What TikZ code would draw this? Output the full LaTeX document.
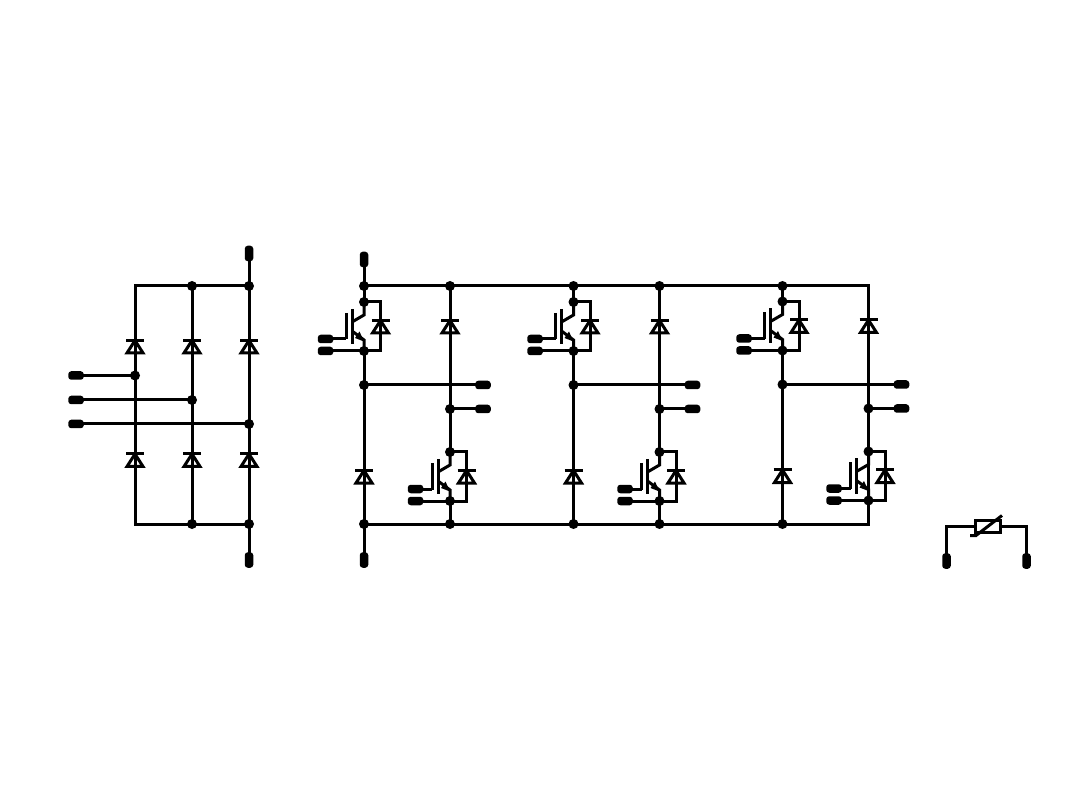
\documentclass[tikz,border=0pt]{standalone}
\tikzset{
    wire/.style={line width=3pt,line join=miter},
    dot/.style={circle,fill=black,inner sep=0pt,outer sep=0pt,minimum size=10pt},
    railcorner/.style={inner sep=0pt,outer sep=0pt,minimum size=0pt},
    hpad/.style={rectangle,fill=black,rounded corners=3pt,inner sep=0pt,outer sep=0pt,minimum width=15.5pt,minimum height=8.5pt},
    vpad/.style={rectangle,fill=black,rounded corners=3pt,inner sep=0pt,outer sep=0pt,minimum width=8.5pt,minimum height=15.5pt}
}
% diode: bar on top, triangle below, centred on its wire
\newcommand{\diode}[2]{
    \draw[wire] (#1-9,#2-6) -- (#1+9,#2-6);
    \draw[wire] (#1,#2-6) -- (#1-8,#2+6.5) -- (#1+8,#2+6.5) -- cycle;
}
% igbt with its diode: name, collector x, collector y, offset of the two pads
\newcommand{\igbt}[4]{
    \begin{scope}[shift={(#2,#3)}]
        \node[dot] (#1C) at (0,0) {};
        \node[dot] (#1E) at (0,49) {};
        \node[hpad] (#1G) at (#4,37) {};
        \node[hpad] (#1S) at (#4,49) {};
        \coordinate (#1R) at (16.5,0);
        \coordinate (#1Q) at (16.5,49);
        \draw[wire] (#1C.center) -- (#1R) -- (#1Q) -- (#1E.center);
        \draw[wire] (#1G.center) -- (-18,37);
        \draw[wire] (#1S.center) -- (#1E.center);
        \draw[wire] (-18,11) -- (-18,37.5);
        \draw[wire] (-12,7) -- (-12,42);
        \draw[wire] (#1C.center) -- (0,13) -- (-12,20);
        \draw[wire] (-12,29) -- (0,38) -- (#1E.center);
        \fill (0,39.5) -- (-9,36) -- (-4.5,29.5) -- cycle;
        \diode{16.5}{24.5}
    \end{scope}
}
\begin{document}
\begin{tikzpicture}[x=1pt,y=-1pt]
    \useasboundingbox (0,0) rectangle (1080,810);
    % rectifier
    \node[vpad] (Dc) at (249,253.5) {};
    \node[vpad] (Db) at (249,560) {};
    \node[hpad] (Ua) at (76,375.5) {};
    \node[hpad] (Ub) at (76,400) {};
    \node[hpad] (Uc) at (76,424) {};
    \node[dot] (Tb) at (192,286) {};
    \node[dot] (Tc) at (249,286) {};
    \node[dot] (Bb) at (192,524) {};
    \node[dot] (Bc) at (249,524) {};
    \node[dot] (Ja) at (135,375.5) {};
    \node[dot] (Jb) at (192,400) {};
    \node[dot] (Jc) at (249,424) {};
    \coordinate (Ta) at (135,286);
    \coordinate (Ba) at (135,524);
    \draw[wire] (Bc.center) -- (Ba) -- (Ta) -- (Tc.center);
    \draw[wire] (Tb.center) -- (Bb.center);
    \draw[wire] (Dc.center) -- (Db.center);
    \draw[wire] (Ua.center) -- (Ja.center);
    \draw[wire] (Ub.center) -- (Jb.center);
    \draw[wire] (Uc.center) -- (Jc.center);
    \diode{135}{346.5}
    \diode{192}{346.5}
    \diode{249}{346.5}
    \diode{135}{460}
    \diode{192}{460}
    \diode{249}{460}
    % inverter
    \node[vpad] (Pp) at (364,259.5) {};
    \node[vpad] (Pn) at (364,560) {};
    \foreach \n/\xa/\xb/\yo/\ds in {a/364/450/0/dot,b/573.5/659.5/0/dot,c/782.5/868.5/-0.5/railcorner}{
        \node[dot] (\n top) at (\xa,286) {};
        \node[\ds] (\n tip) at (\xb,286) {};
        \node[dot] (\n bot) at (\xa,524) {};
        \node[\ds] (\n end) at (\xb,524) {};
        \node[dot] (\n mid) at (\xa,385+\yo) {};
        \node[dot] (\n out) at (\xb,409+\yo) {};
        \node[hpad] (\n U) at (\xb+33,385+\yo) {};
        \node[hpad] (\n V) at (\xb+33,409+\yo) {};
        \igbt{\n h}{\xa}{302+\yo}{-38.5}
        \igbt{\n l}{\xb}{452+\yo}{-34.5}
        \draw[wire] (\n top.center) -- (\n hC.center);
        \draw[wire] (\n hE.center) -- (\n bot.center);
        \draw[wire] (\n tip.center) -- (\n lC.center);
        \draw[wire] (\n lE.center) -- (\n end.center);
        \draw[wire] (\n mid.center) -- (\n U.center);
        \draw[wire] (\n out.center) -- (\n V.center);
        \diode{\xb}{326.5+\yo}
        \diode{\xa}{476.5+\yo}
    }
    \draw[wire] (Pp.center) -- (atop.center) -- (ctip.center) -- (cend.center) -- (abot.center) -- (Pn.center);
    % varistor
    \node[vpad] (Va) at (946.5,561) {};
    \node[vpad] (Vb) at (1026.5,561) {};
    \node[draw,line width=3pt,rectangle,inner sep=0pt,outer sep=0pt,minimum width=25pt,minimum height=12pt] (Vr) at (987.5,526.5) {};
    \draw[wire] (Va.center) |- (Vr);
    \draw[wire] (Vb.center) |- (Vr);
    \draw[wire] (970,535.5) -- (976,535.5) -- (1002,515.5);
\end{tikzpicture}
\end{document}
